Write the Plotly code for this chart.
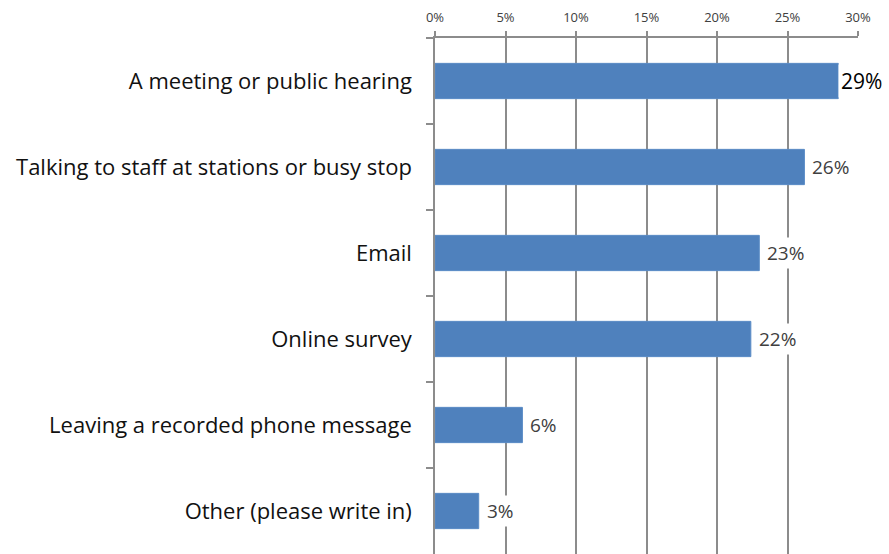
import plotly.graph_objects as go

categories = [
    "A meeting or public hearing",
    "Talking to staff at stations or busy stop",
    "Email",
    "Online survey",
    "Leaving a recorded phone message",
    "Other (please write in)",
]
values = [0.286, 0.262, 0.230, 0.224, 0.062, 0.031]
value_labels = ["29%", "26%", "23%", "22%", "6%", "3%"]
label_sizes = [21, 19, 19, 19, 19, 19]
label_colors = ["#000000", "#404040", "#404040", "#404040", "#404040", "#404040"]
label_gaps = [0, 5, 5, 5, 5, 5]
x_ticks = [0, 0.05, 0.10, 0.15, 0.20, 0.25, 0.30]
x_tick_text = ["0%", "5%", "10%", "15%", "20%", "25%", "30%"]

fig = go.Figure(
    go.Bar(
        x=values,
        y=categories,
        orientation="h",
        marker=dict(color="#4F81BD", line=dict(color="#5B8CC6", width=1)),
        width=0.41,
        hoverinfo="skip",
    )
)

for v, c, t, s, col, g in zip(values, categories, value_labels, label_sizes, label_colors, label_gaps):
    fig.add_annotation(
        x=v, y=c, text=t, showarrow=False, xanchor="left", yanchor="middle",
        xshift=g, bgcolor="white", borderpad=2,
        font=dict(family="Open Sans, sans-serif", size=s, color=col),
    )

fig.update_layout(
    width=889, height=554,
    margin=dict(l=435, r=31, t=38, b=0),
    paper_bgcolor="white", plot_bgcolor="white",
    showlegend=False,
    font=dict(family="Open Sans, sans-serif", color="#111111"),
)
fig.update_xaxes(
    side="top", range=[0, 0.30], tickvals=x_ticks, ticktext=x_tick_text,
    showgrid=True, gridcolor="#8c8c8c", gridwidth=1.5,
    showline=True, linecolor="#8c8c8c", linewidth=1.5,
    ticks="outside", ticklen=5, tickcolor="#8c8c8c", tickwidth=1.5,
    ticklabelstandoff=4,
    tickfont=dict(size=13, color="#404040"), zeroline=False,
)
fig.update_yaxes(
    autorange="reversed", showgrid=False,
    showline=True, linecolor="#8c8c8c", linewidth=1.5,
    ticks="outside", ticklen=7, tickcolor="#8c8c8c", tickwidth=1.5,
    tickson="boundaries", ticklabelstandoff=17,
    tickfont=dict(size=22, color="#111111"),
)

fig.write_html("out.html", config={"displayModeBar": False},
               post_script="document.body.style.margin='0';")
